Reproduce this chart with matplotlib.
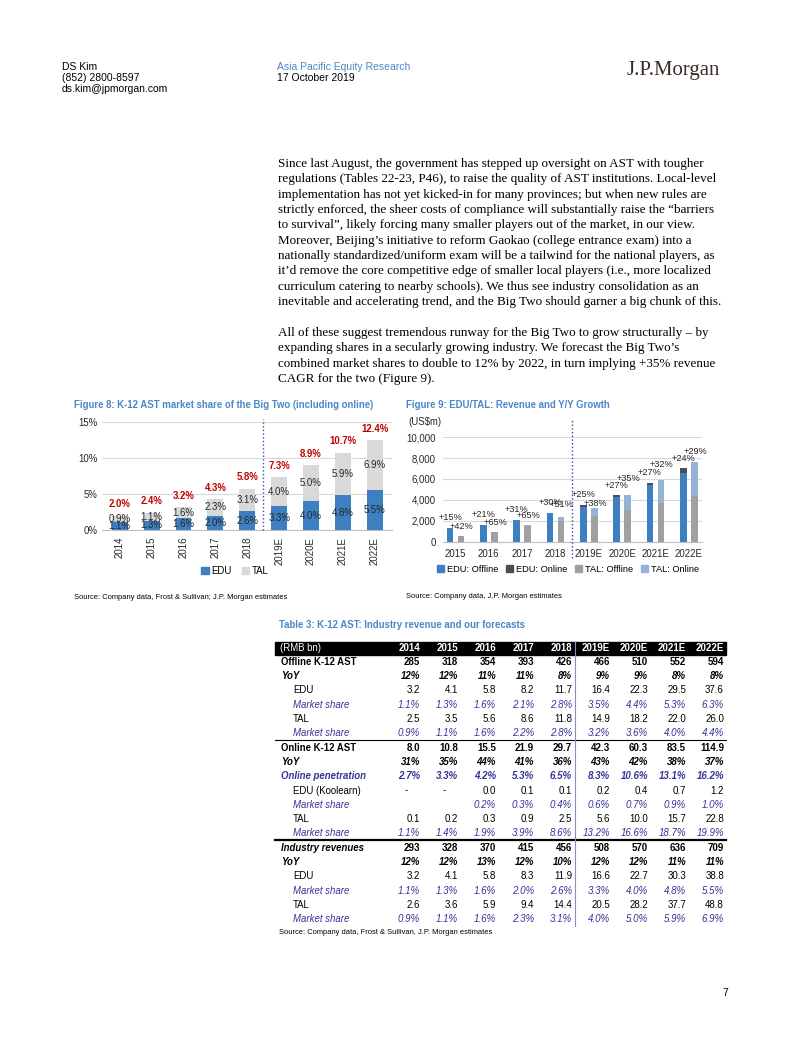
import matplotlib
matplotlib.use('Agg')
import matplotlib.pyplot as plt
import numpy as np
from matplotlib.patches import Rectangle, Patch
from matplotlib.lines import Line2D

# ---------------- data ----------------
fig8_years = ['2014', '2015', '2016', '2017', '2018', '2019E', '2020E', '2021E', '2022E']
fig8_edu = [1.1, 1.3, 1.6, 2.0, 2.6, 3.3, 4.0, 4.8, 5.5]
fig8_tal = [0.9, 1.1, 1.6, 2.3, 3.1, 4.0, 5.0, 5.9, 6.9]
fig8_total = [2.0, 2.4, 3.2, 4.3, 5.8, 7.3, 8.9, 10.7, 12.4]
fig8_yticks = [0, 5, 10, 15]

fig9_years = ['2015', '2016', '2017', '2018', '2019E', '2020E', '2021E', '2022E']
fig9_edu_off = [1300, 1600, 2100, 2750, 3330, 4250, 5400, 6600]
fig9_edu_on = [0, 0, 0, 0, 180, 170, 240, 420]
fig9_tal_off = [500, 900, 1460, 1990, 2470, 2980, 3690, 4360]
fig9_tal_on = [0, 0, 80, 350, 770, 1440, 2180, 3270]
fig9_edu_growth = ['+15%', '+21%', '+31%', '+30%', '+25%', '+27%', '+27%', '+24%']
fig9_tal_growth = ['+42%', '+65%', '+65%', '+51%', '+38%', '+35%', '+32%', '+29%']
fig9_yticks = [0, 2000, 4000, 6000, 8000, 10000]

table_cols = ['2014', '2015', '2016', '2017', '2018', '2019E', '2020E', '2021E', '2022E']
row_labels = ['Offline K-12 AST', 'YoY', 'EDU', 'Market share', 'TAL', 'Market share',
              'Online K-12 AST', 'YoY', 'Online penetration', 'EDU (Koolearn)', 'Market share',
              'TAL', 'Market share', 'Industry revenues', 'YoY', 'EDU', 'Market share',
              'TAL', 'Market share']
row_kinds = ['total', 'yoy', 'item', 'share', 'item', 'share',
             'total', 'yoy', 'pen', 'item', 'share',
             'item', 'share', 'totali', 'yoy', 'item', 'share',
             'item', 'share']
row_values = [
    ['285', '318', '354', '393', '426', '466', '510', '552', '594'],
    ['12%', '12%', '11%', '11%', '8%', '9%', '9%', '8%', '8%'],
    ['3.2', '4.1', '5.8', '8.2', '11.7', '16.4', '22.3', '29.5', '37.6'],
    ['1.1%', '1.3%', '1.6%', '2.1%', '2.8%', '3.5%', '4.4%', '5.3%', '6.3%'],
    ['2.5', '3.5', '5.6', '8.6', '11.8', '14.9', '18.2', '22.0', '26.0'],
    ['0.9%', '1.1%', '1.6%', '2.2%', '2.8%', '3.2%', '3.6%', '4.0%', '4.4%'],
    ['8.0', '10.8', '15.5', '21.9', '29.7', '42.3', '60.3', '83.5', '114.9'],
    ['31%', '35%', '44%', '41%', '36%', '43%', '42%', '38%', '37%'],
    ['2.7%', '3.3%', '4.2%', '5.3%', '6.5%', '8.3%', '10.6%', '13.1%', '16.2%'],
    ['-', '-', '0.0', '0.1', '0.1', '0.2', '0.4', '0.7', '1.2'],
    ['', '', '0.2%', '0.3%', '0.4%', '0.6%', '0.7%', '0.9%', '1.0%'],
    ['0.1', '0.2', '0.3', '0.9', '2.5', '5.6', '10.0', '15.7', '22.8'],
    ['1.1%', '1.4%', '1.9%', '3.9%', '8.6%', '13.2%', '16.6%', '18.7%', '19.9%'],
    ['293', '328', '370', '415', '456', '508', '570', '636', '709'],
    ['12%', '12%', '13%', '12%', '10%', '12%', '12%', '11%', '11%'],
    ['3.2', '4.1', '5.8', '8.3', '11.9', '16.6', '22.7', '30.3', '38.8'],
    ['1.1%', '1.3%', '1.6%', '2.0%', '2.6%', '3.3%', '4.0%', '4.8%', '5.5%'],
    ['2.6', '3.6', '5.9', '9.4', '14.4', '20.5', '28.2', '37.7', '48.8'],
    ['0.9%', '1.1%', '1.6%', '2.3%', '3.1%', '4.0%', '5.0%', '5.9%', '6.9%'],
]

body_p1 = [
    "Since last August, the government has stepped up oversight on AST with tougher",
    "regulations (Tables 22-23, P46), to raise the quality of AST institutions. Local-level",
    "implementation has not yet kicked-in for many provinces; but when new rules are",
    "strictly enforced, the sheer costs of compliance will substantially raise the \u201cbarriers",
    "to survival\u201d, likely forcing many smaller players out of the market, in our view.",
    "Moreover, Beijing\u2019s initiative to reform Gaokao (college entrance exam) into a",
    "nationally standardized/uniform exam will be a tailwind for the national players, as",
    "it\u2019d remove the core competitive edge of smaller local players (i.e., more localized",
    "curriculum catering to nearby schools). We thus see industry consolidation as an",
    "inevitable and accelerating trend, and the Big Two should garner a big chunk of this.",
]
body_p2 = [
    "All of these suggest tremendous runway for the Big Two to grow structurally \u2013 by",
    "expanding shares in a secularly growing industry. We forecast the Big Two\u2019s",
    "combined market shares to double to 12% by 2022, in turn implying +35% revenue",
    "CAGR for the two (Figure 9).",
]

# ---------------- setup ----------------
W, H = 802, 1037
plt.rcParams['font.family'] = ['Liberation Sans', 'DejaVu Sans']
fig = plt.figure(figsize=(W / 100, H / 100), dpi=100)
renderer = fig.canvas.get_renderer()

EDU_BLUE = '#3d7fc1'
TAL_GREY = '#d9d9d9'
RED = '#c00000'
TITLE_BLUE = '#4a86c8'
SHARE_BLUE = '#34349a'
GRID = '#d9d9d9'
CFS = 6.6          # chart text size
TAL_LABEL_DY = [0, 0, 0, 1.5, -4, 5, 4.5, 0]   # extra lift (pt) of TAL growth labels


def fx(x):
    return x / W


def fy(y):
    return 1 - y / H


def add_ax(x0, y0, x1, y1):
    return fig.add_axes([x0 / W, 1 - y1 / H, (x1 - x0) / W, (y1 - y0) / H])


def fit_size(text, width_px, size0=10, **kw):
    t = fig.text(0, 0, text, fontsize=size0, **kw)
    w = t.get_window_extent(renderer).width
    t.remove()
    return size0 * width_px / w


def ftext(x, y, s, **kw):
    kw.setdefault('va', 'center')
    return fig.text(fx(x), fy(y), s, **kw)


# ---------------- header ----------------
hs = fit_size("ds.kim@jpmorgan.com", 107)
ftext(62, 67, "DS Kim", fontsize=hs)
ftext(62, 77.8, "(852) 2800-8597", fontsize=hs)
ftext(62, 88.5, "ds.kim@jpmorgan.com", fontsize=hs)
ftext(277, 67, "Asia Pacific Equity Research", fontsize=hs, color=TITLE_BLUE)
ftext(277, 77.8, "17 October 2019", fontsize=hs)
ls = fit_size("J.P.Morgan", 93, family='Liberation Serif')
ftext(627, 71, "J.P.Morgan", fontsize=ls, family='Liberation Serif', color='#3b2b26')

# ---------------- body ----------------
bs = fit_size(body_p1[-1], 442, family='Liberation Serif')
for i, line in enumerate(body_p1):
    ftext(278, 164 + 15.35 * i, line, fontsize=bs, family='Liberation Serif')
for i, line in enumerate(body_p2):
    ftext(278, 333 + 15.35 * i, line, fontsize=bs, family='Liberation Serif')

# ---------------- Figure 8 ----------------
t8 = "Figure 8: K-12 AST market share of the Big Two (including online)"
ts = fit_size(t8, 302, weight='bold')
ftext(74, 405, t8, fontsize=ts, weight='bold', color=TITLE_BLUE)

ax8 = add_ax(101.7, 421.7, 391.7, 530)
x8 = np.arange(len(fig8_years))
ax8.bar(x8, fig8_edu, width=0.5, color=EDU_BLUE, zorder=2, label='EDU')
ax8.bar(x8, fig8_tal, bottom=fig8_edu, width=0.5, color=TAL_GREY, zorder=2, label='TAL')
ax8.set_xlim(-0.565, 8.53)
ax8.set_ylim(0, 15)
ax8.set_yticks(fig8_yticks)
ax8.set_yticklabels([f'{v}%' for v in fig8_yticks])
ax8.set_xticks(x8)
ax8.set_xticklabels(fig8_years, rotation=90)
ax8.yaxis.grid(True, color=GRID, lw=0.8)
ax8.set_axisbelow(True)
for s in ['top', 'right', 'left']:
    ax8.spines[s].set_visible(False)
ax8.spines['bottom'].set_color('#bfbfbf')
ax8.tick_params(axis='y', length=0, pad=3, labelsize=CFS + 0.3, colors='#262626')
ax8.tick_params(axis='x', length=0, pad=5, labelsize=CFS + 0.3, colors='#262626')
for i in range(len(fig8_years)):
    e, t, tot = fig8_edu[i], fig8_tal[i], fig8_total[i]
    ax8.text(i, e / 2, f'{e:.1f}%', ha='center', va='center', fontsize=CFS + 0.3, color='#262626', zorder=3)
    ax8.text(i, e + t / 2, f'{t:.1f}%', ha='center', va='center', fontsize=CFS + 0.3, color='#262626', zorder=3)
    ax8.annotate(f'{tot:.1f}%', (i, tot), xytext=(0, 4.5), textcoords='offset points',
                 ha='center', va='bottom', fontsize=CFS + 0.3, color=RED, weight='bold')
ax8.plot([4.5, 4.5], [0, 15.4], ls=':', color='#4848a8', lw=1, clip_on=False, zorder=4)
h8 = [Patch(color=EDU_BLUE, label='EDU'), Patch(color=TAL_GREY, label='TAL')]
fig.legend(handles=h8, loc='center', bbox_to_anchor=(fx(235), fy(571)), ncol=2, frameon=False,
           fontsize=CFS + 0.3, handlelength=0.8, handleheight=0.8, handletextpad=0.3, columnspacing=1.0)
s8 = "Source: Company data, Frost & Sullivan; J.P. Morgan estimates"
ss = fit_size(s8, 213)
ftext(74, 597.5, s8, fontsize=ss)

# ---------------- Figure 9 ----------------
t9 = "Figure 9: EDU/TAL: Revenue and Y/Y Growth"
ftext(406, 405, t9, fontsize=ts, weight='bold', color=TITLE_BLUE)
ftext(408, 422, "(US$m)", fontsize=CFS + 0.3, color='#262626')

ax9 = add_ax(443, 437.3, 701.7, 541.5)
x9 = np.arange(len(fig9_years))
off, bw = 0.165, 0.2
edu_tot = np.array(fig9_edu_off) + np.array(fig9_edu_on)
tal_tot = np.array(fig9_tal_off) + np.array(fig9_tal_on)
ax9.bar(x9 - off, fig9_edu_off, width=bw, color=EDU_BLUE, zorder=2)
ax9.bar(x9 - off, fig9_edu_on, bottom=fig9_edu_off, width=bw, color='#4d4d4d', zorder=2)
ax9.bar(x9 + off, fig9_tal_off, width=bw, color='#a0a0a0', zorder=2)
ax9.bar(x9 + off, fig9_tal_on, bottom=fig9_tal_off, width=bw, color='#95b3d7', zorder=2)
ax9.set_xlim(-0.375, 7.39)
ax9.set_ylim(0, 10000)
ax9.set_yticks(fig9_yticks)
ax9.set_yticklabels([f'{v:,}' for v in fig9_yticks])
ax9.set_xticks(x9)
ax9.set_xticklabels(fig9_years)
ax9.yaxis.grid(True, color=GRID, lw=0.8)
ax9.set_axisbelow(True)
for s in ['top', 'right', 'left']:
    ax9.spines[s].set_visible(False)
ax9.spines['bottom'].set_color('#bfbfbf')
ax9.tick_params(axis='y', length=0, pad=5, labelsize=CFS + 0.3, colors='#262626')
ax9.tick_params(axis='x', length=0, pad=5.5, labelsize=CFS + 0.3, colors='#262626')
for i in range(len(fig9_years)):
    ax9.annotate(fig9_edu_growth[i], (i - off, edu_tot[i]), xytext=(0, 4), textcoords='offset points',
                 ha='center', va='bottom', fontsize=CFS, color='#262626')
    ax9.annotate(fig9_tal_growth[i], (i + off, tal_tot[i]), xytext=(0.5, 4 + TAL_LABEL_DY[i]),
                 textcoords='offset points', ha='center', va='bottom', fontsize=CFS, color='#262626')
ax9.plot([3.5, 3.5], [-1600, 11650], ls=':', color='#3a3aa0', lw=1, clip_on=False, zorder=4)
h9 = [Patch(color=EDU_BLUE, label='EDU: Offline'), Patch(color='#4d4d4d', label='EDU: Online'),
      Patch(color='#a0a0a0', label='TAL: Offline'), Patch(color='#95b3d7', label='TAL: Online')]
fig.legend(handles=h9, loc='center', bbox_to_anchor=(fx(568), fy(569.5)), ncol=4, frameon=False,
           fontsize=CFS + 0.1, handlelength=0.7, handleheight=0.7, handletextpad=0.3, columnspacing=0.9)
s9 = "Source: Company data, J.P. Morgan estimates"
ftext(406, 597, s9, fontsize=ss)

# ---------------- Table 3 ----------------
tt = "Table 3: K-12 AST: Industry revenue and our forecasts"
ftext(279, 625.5, tt, fontsize=ts, weight='bold', color=TITLE_BLUE)

tfs = fit_size("Offline K-12 AST", 72, weight='bold')
vfs = 7.0
col_right = [420 + 38 * j for j in range(len(table_cols))]
fig.patches.append(Rectangle((fx(275), fy(654.5)), (726 - 275) / W, 13 / H,
                             transform=fig.transFigure, color='black', zorder=1))
ftext(280, 648, "(RMB bn)", fontsize=tfs + 0.3, color='white', zorder=2)
for j, c in enumerate(table_cols):
    ftext(col_right[j], 648, c, fontsize=vfs, color='white', weight='bold', ha='right', zorder=2)

styles = {
    'total': dict(lx=281, lw='bold', ls='normal', lc='black', vw='bold', vs='normal', vc='black'),
    'totali': dict(lx=281, lw='bold', ls='italic', lc='black', vw='bold', vs='normal', vc='black'),
    'yoy': dict(lx=281, lw='bold', ls='italic', lc='black', vw='bold', vs='italic', vc='black'),
    'item': dict(lx=293, lw='normal', ls='normal', lc='black', vw='normal', vs='normal', vc='black'),
    'share': dict(lx=293, lw='normal', ls='italic', lc=SHARE_BLUE, vw='normal', vs='italic', vc=SHARE_BLUE),
    'pen': dict(lx=281, lw='bold', ls='italic', lc=SHARE_BLUE, vw='bold', vs='italic', vc=SHARE_BLUE),
}
for r, (lab, kind, vals) in enumerate(zip(row_labels, row_kinds, row_values)):
    y = 661.8 + 14.3 * r
    st = styles[kind]
    ftext(st['lx'], y, lab, fontsize=tfs + 0.3, weight=st['lw'], style=st['ls'], color=st['lc'])
    for j, v in enumerate(vals):
        if v == '-':
            ftext(col_right[j] - 14, y, v, fontsize=vfs, ha='center', color=st['vc'])
        elif v:
            ftext(col_right[j], y, v, fontsize=vfs, ha='right', weight=st['vw'], style=st['vs'],
                  color=st['vc'])

fig.add_artist(Line2D([fx(275), fx(726)], [fy(740), fy(740)], lw=0.8, color='black'))
fig.add_artist(Line2D([fx(275), fx(726)], [fy(840), fy(840)], lw=1.6, color='black'))
fig.add_artist(Line2D([fx(575), fx(575)], [fy(642), fy(926)], lw=0.8, color='#8c8cc8'))
st_ = "Source: Company data, Frost & Sullivan, J.P. Morgan estimates"
ftext(279, 933, st_, fontsize=ss)

# page number
ftext(722, 993, "7", fontsize=7.5)

fig.savefig('out.png', dpi=100)
